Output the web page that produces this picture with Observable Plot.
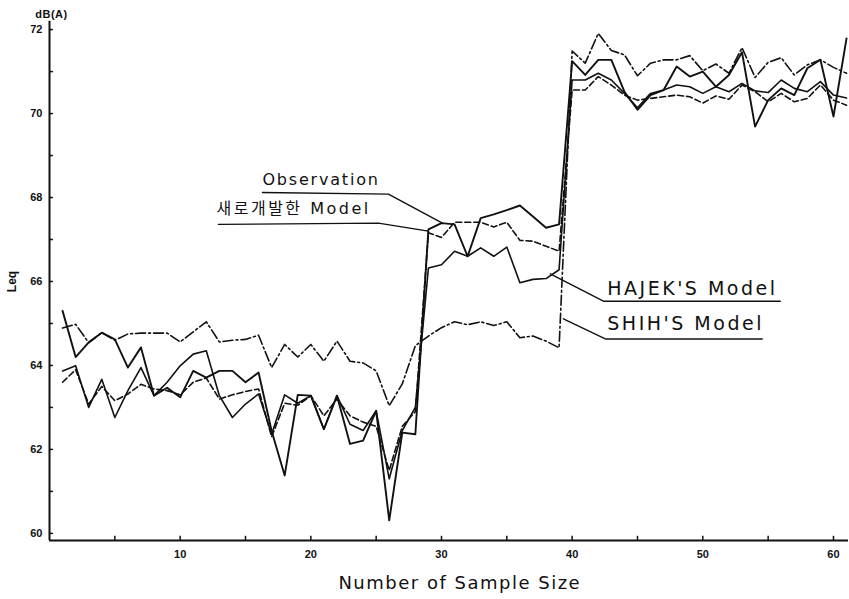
<!DOCTYPE html>
<html><head><meta charset="utf-8">
<script src="https://cdn.jsdelivr.net/npm/d3@7"></script>
<script src="https://cdn.jsdelivr.net/npm/@observablehq/plot@0.6"></script>
<style>html,body{margin:0;padding:0;background:#fff;} svg{display:block}</style>
</head><body><div id="chart"></div>
<script>
// ---- data ----
const sampleNumbers = d3.range(1, 62); // samples 1..61

const observation = [
  65.3, 64.2, 64.55, 64.78, 64.62, 63.95, 64.43, 63.28, 63.47, 63.24, 63.87, 63.71, 63.87, 63.87,
  63.6, 63.83, 62.44, 61.38, 63.3, 63.28, 62.48, 63.28, 62.13, 62.21, 62.92, 60.31, 62.4, 62.36,
  67.24, 67.39, 67.36, 66.6, 67.51, 67.6, 67.7, 67.81, 67.55, 67.28, 67.36,
  71.25, 70.92, 71.28, 71.28, 70.52, 70.09, 70.44, 70.56, 71.12, 70.88, 71.0, 70.64, 70.92, 71.46,
  69.69, 70.32, 70.6, 70.44, 71.08, 71.28, 69.93, 71.79
];
const newModel = [
  63.6, 63.9, 63.08, 63.5, 63.16, 63.32, 63.55, 63.44, 63.4, 63.3, 63.6, 63.7, 63.2, 63.3,
  63.38, 63.44, 62.3, 63.1, 63.05, 63.28, 62.8, 63.2, 62.8, 62.65, 62.55, 61.5, 62.55, 62.9,
  67.16, 67.05, 67.41, 67.41, 67.41, 67.3, 67.41, 66.98, 66.96, 66.84, 66.72,
  70.56, 70.56, 70.88, 70.68, 70.44, 70.32, 70.36, 70.4, 70.44, 70.4, 70.25, 70.42, 70.34, 70.68,
  70.52, 70.28, 70.48, 70.28, 70.36, 70.68, 70.32, 70.2
];
const hajek = [
  63.87, 63.99, 63.0, 63.67, 62.76, 63.4, 63.95, 63.28, 63.6, 63.99, 64.27, 64.35, 63.28, 62.76,
  63.08, 63.32, 62.36, 63.3, 63.1, 63.28, 62.48, 63.28, 62.6, 62.45, 62.92, 61.3, 62.45, 63.0,
  66.32, 66.4, 66.72, 66.6, 66.8, 66.6, 66.82, 65.97, 66.05, 66.07, 66.28,
  70.8, 70.8, 70.96, 70.8, 70.48, 70.14, 70.48, 70.56, 70.68, 70.64, 70.48, 70.64, 70.52, 70.72,
  70.54, 70.5, 70.8, 70.6, 70.52, 70.76, 70.44, 70.37
];
const shih = [
  64.89, 64.98, 64.54, 64.78, 64.6, 64.75, 64.77, 64.77, 64.77, 64.56, 64.8, 65.04, 64.56, 64.6,
  64.62, 64.72, 63.95, 64.5, 64.2, 64.5, 64.1, 64.58, 64.1, 64.06, 63.87, 63.04, 63.56, 64.47,
  64.7, 64.9, 65.04, 64.97, 65.04, 64.95, 65.04, 64.66, 64.7, 64.58, 64.42,
  71.49, 71.2, 71.91, 71.5, 71.4, 70.9, 71.2, 71.28, 71.28, 71.38, 71.02, 71.18, 70.96, 71.57,
  70.86, 71.22, 71.33, 70.92, 71.16, 71.28, 71.1, 70.96
];

const seriesNames = ["Observation", "새로개발한 Model", "HAJEK'S Model", "SHIH'S Model"];
const xTickLabels = [10, 20, 30, 40, 50, 60];
const xTickMarks = [5, 10, 15, 20, 25, 30, 35, 40, 45, 50, 55, 60];
const yTickLabels = [60, 62, 64, 66, 68, 70, 72];
const yTickMarks = [60, 61, 62, 63, 64, 65, 66, 67, 68, 69, 70, 71, 72];
const xTitle = "Number of Sample Size";
const yTitle = "Leq";
const yUnit = "dB(A)";

// annotation leader lines (sample number, dB) and label anchors
const leaderObservation = [[16.3, 68.12], [25.94, 68.08], [30.07, 67.39]];
const leaderNewModel = [[12.93, 67.36], [25.17, 67.39], [29.0, 67.2]];
const leaderHajek = [[38.33, 66.18], [42.39, 65.53], [55.93, 65.53]];
const leaderShih = [[39.33, 65.11], [42.54, 64.63], [54.55, 64.63]];
const labelAnchors = [[16.3, 68.41], [12.78, 67.72], [42.69, 65.82], [42.69, 64.99]];

// ---- build ----
const rows = vals => sampleNumbers.map((n, i) => ({n, v: vals[i]}));
const INK = "#111";
const X0 = 0, X1 = 61.15, Y0 = 59.83, Y1 = 72.05;
const tickFont = "Liberation Sans, Arial, sans-serif";
const labelFont = "DejaVu Sans, 'Noto Sans CJK KR', sans-serif";
const leader = pts => Plot.line(pts, {x: d => d[0], y: d => d[1], stroke: INK, strokeWidth: 1.4});

const chart = Plot.plot({
  width: 849, height: 599,
  marginLeft: 49, marginRight: 1, marginTop: 27, marginBottom: 59,
  x: {domain: [X0, X1], axis: null},
  y: {domain: [Y0, Y1], axis: null},
  style: {background: "#fff", color: INK},
  marks: [
    Plot.ruleY([Y0], {x1: X0, x2: X1, stroke: INK, strokeWidth: 2}),
    Plot.ruleX([X0], {y1: Y0, y2: 72.2, stroke: INK, strokeWidth: 2}),
    Plot.ruleX(xTickMarks, {y1: Y0, y2: Y0 + 0.1, stroke: INK, strokeWidth: 1.5}),
    Plot.ruleY(yTickMarks, {x1: X0, x2: X0 + 0.3, stroke: INK, strokeWidth: 1.5}),
    Plot.text(xTickLabels, {x: d => d, y: Y0, dy: 14, text: d => String(d), fontWeight: "bold", fontSize: 11, fontFamily: tickFont, fill: INK}),
    Plot.text(yTickLabels, {x: X0, y: d => d, dx: -7, textAnchor: "end", text: d => String(d), fontWeight: "bold", fontSize: 11, fontFamily: tickFont, fill: INK}),
    Plot.text([yUnit], {x: X0, y: Y1, dy: -13, dx: 2, text: d => d, fontWeight: "bold", fontSize: 11, fontFamily: tickFont, fill: INK}),
    Plot.text([yTitle], {x: X0, y: 66.0, dx: -37, rotate: -90, text: d => d, fontWeight: "bold", fontSize: 12, fontFamily: tickFont, fill: INK}),
    Plot.text([xTitle], {x: 31.4, y: Y0, dy: 43, text: d => d, fontSize: 18, fontFamily: labelFont, fill: INK}),

    Plot.line(rows(shih), {x: "n", y: "v", stroke: INK, strokeWidth: 1.6, strokeDasharray: "10,3,2,3"}),
    Plot.line(rows(newModel), {x: "n", y: "v", stroke: INK, strokeWidth: 1.6, strokeDasharray: "6,3"}),
    Plot.line(rows(hajek), {x: "n", y: "v", stroke: INK, strokeWidth: 1.6}),
    Plot.line(rows(observation), {x: "n", y: "v", stroke: INK, strokeWidth: 1.9}),

    leader(leaderObservation), leader(leaderNewModel), leader(leaderHajek), leader(leaderShih),
    Plot.text([0], {x: labelAnchors[0][0], y: labelAnchors[0][1], text: () => seriesNames[0], textAnchor: "start", fontSize: 16, fontFamily: labelFont, fill: INK}),
    Plot.text([0], {x: labelAnchors[1][0], y: labelAnchors[1][1], text: () => seriesNames[1], textAnchor: "start", fontSize: 16, fontFamily: labelFont, fill: INK}),
    Plot.text([0], {x: labelAnchors[2][0], y: labelAnchors[2][1], text: () => seriesNames[2], textAnchor: "start", fontSize: 19, fontFamily: labelFont, fill: INK}),
    Plot.text([0], {x: labelAnchors[3][0], y: labelAnchors[3][1], text: () => seriesNames[3], textAnchor: "start", fontSize: 19, fontFamily: labelFont, fill: INK})
  ]
});

const spacing = {"Observation": "1.8px", "새로개발한 Model": "2.5px", "HAJEK'S Model": "2.5px", "SHIH'S Model": "2.5px", "Number of Sample Size": "1.5px", "dB(A)": "0.5px"};
chart.querySelectorAll("text").forEach(t => {
  const s = spacing[t.textContent];
  if (s) t.style.letterSpacing = s;
});
document.getElementById("chart").appendChild(chart);
</script>
</body></html>
